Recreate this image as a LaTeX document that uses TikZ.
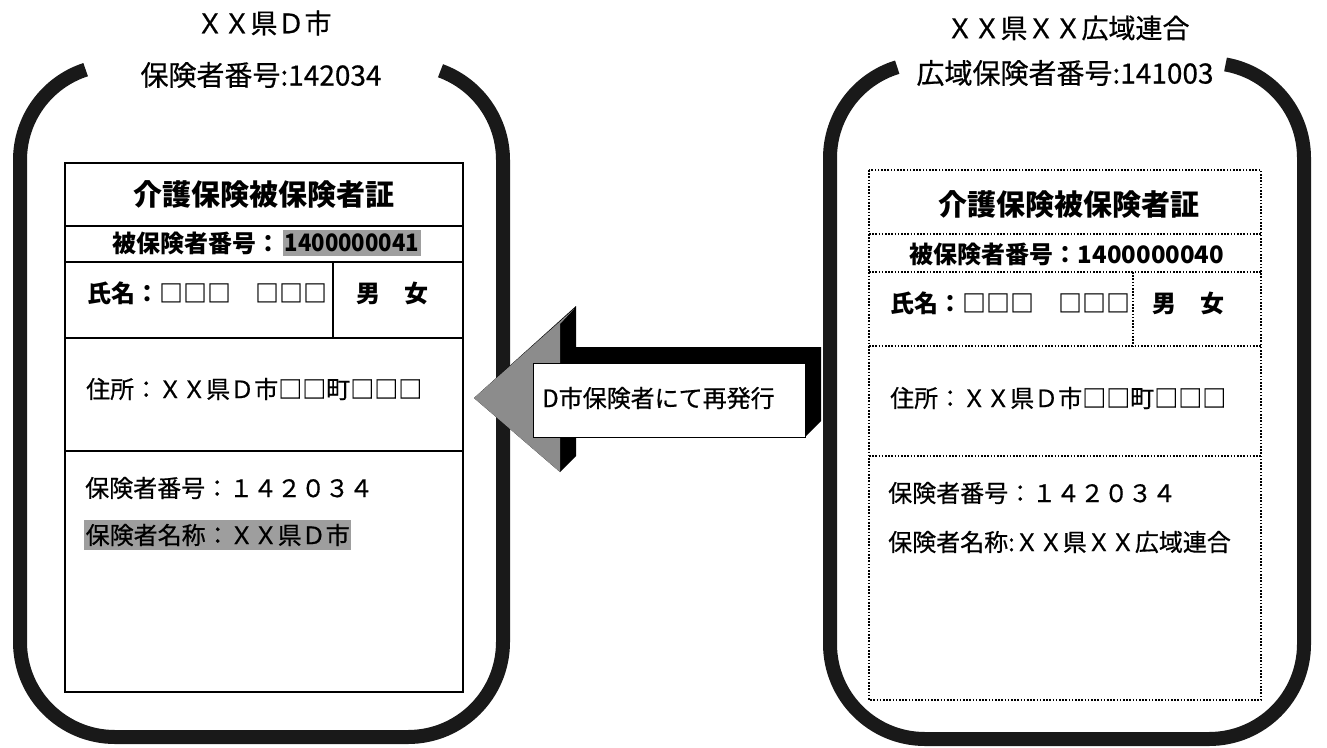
\documentclass[tikz,border=0pt]{standalone}
\usepackage{fontspec}
\newfontfamily\jp{Noto Sans CJK JP}
\newfontfamily\jpm{Noto Sans CJK JP}[FakeBold=0.6]
\begin{document}
\begin{tikzpicture}[x=1pt,y=-1pt,
  frame/.style={line width=14pt, black!90},
  cardsolid/.style={line width=1.8pt, black},
  carddot/.style={line width=1.4pt, black, dash pattern=on 1.6pt off 1.6pt},
  txt/.style={inner sep=0pt, font=\jpm\fontsize{24}{24}\selectfont},
  txtb/.style={inner sep=0pt, font=\jp\bfseries\fontsize{24}{24}\selectfont},
  hdr/.style={inner sep=0pt, font=\jpm\fontsize{28}{28}\selectfont},
  ttl/.style={inner sep=0pt, font=\jp\bfseries\fontsize{29}{29}\selectfont},
  hil/.style={fill=black!38, inner xsep=1.5pt, inner ysep=4pt},
  abox/.style={draw, fill=white, line width=1pt, minimum width=272pt, minimum height=74pt, inner sep=0pt}]
\useasboundingbox (0,0) rectangle (1327,747);

% outer frames
\draw[frame] (115,160) ++(252:95) arc[start angle=252,end angle=180,radius=95]
  -- (20,642) arc[start angle=180,end angle=90,radius=95]
  -- (408,737) arc[start angle=90,end angle=0,radius=95]
  -- (503,160) arc[start angle=0,end angle=-70,radius=95];
\draw[frame] (925,158) ++(253:95) arc[start angle=253,end angle=180,radius=95]
  -- (830,644) arc[start angle=180,end angle=90,radius=95]
  -- (1209,739) arc[start angle=90,end angle=0,radius=95]
  -- (1304,158) arc[start angle=0,end angle=-80,radius=95];

% headers
\node[hdr, font=\jpm\fontsize{27}{27}\selectfont] (lh1) at (264,23) {ＸＸ県Ｄ市};
\node[hdr] (lh2) at (261,75) {保険者番号:142034};
\node[hdr, font=\jpm\fontsize{27}{27}\selectfont] (rh1) at (1068,28) {ＸＸ県ＸＸ広域連合};
\node[hdr] (rh2) at (1065,73) {広域保険者番号:141003};

% left card
\draw[cardsolid] (65,163) rectangle (463,692);
\draw[cardsolid] (65,226) -- (463,226);
\draw[cardsolid] (65,262) -- (463,262);
\draw[cardsolid] (65,338) -- (463,338);
\draw[cardsolid] (333,262) -- (333,338);
\draw[cardsolid] (65,451) -- (463,451);

\node[ttl] (ltitle) at (264,195) {介護保険被保険者証};
\node[txtb, anchor=east] (lnumk) at (281,243) {被保険者番号：};
\node[txtb, hil, anchor=west] (lnumv) at (283,243) {\scalebox{0.92}[1]{1400000041}};
\node[txtb, anchor=west] (lname) at (87,293) {氏名：□□□　□□□};
\node[txtb] (lsex) at (392,293) {男　女};
\node[txt, anchor=west] (laddr) at (86,389) {住所：ＸＸ県Ｄ市□□町□□□};
\node[txt, anchor=west] (lins) at (85,488) {保険者番号：１４２０３４};
\node[txt, hil, anchor=west] (linsn) at (84,535) {保険者名称：ＸＸ県Ｄ市};

% right card
\draw[carddot] (869,170) rectangle (1261,700);
\draw[carddot] (869,234) -- (1261,234);
\draw[carddot] (869,272) -- (1261,272);
\draw[carddot] (869,346) -- (1261,346);
\draw[carddot] (1133,272) -- (1133,346);
\draw[carddot] (869,456) -- (1261,456);

\node[ttl] (rtitle) at (1069,205) {介護保険被保険者証};
\node[txtb] (rnum) at (1067,254) {被保険者番号：1400000040};
\node[txtb, anchor=west] (rname) at (890,303) {氏名：□□□　□□□};
\node[txtb] (rsex) at (1188,303) {男　女};
\node[txt, anchor=west] (raddr) at (890,398) {住所：ＸＸ県Ｄ市□□町□□□};
\node[txt, anchor=west] (rins) at (888,493) {保険者番号：１４２０３４};
\node[txt, anchor=west] (rinsn) at (888,542) {保険者名称:ＸＸ県ＸＸ広域連合};

% block arrow
\fill[black] (474,398) -- (576,306) -- (576,347) -- (821,347) -- (821,421)
  -- (805,437) -- (576,437) -- (576,456) -- (560,472) -- cycle;
\fill[black!45] (474,398) -- (574,309) -- (560,324) -- (560,472) -- cycle;
\node[abox] (box) at (669,400) {};
\node[txt, anchor=west] (boxt) at (542,398) {D市保険者にて再発行};
\end{tikzpicture}
\end{document}
